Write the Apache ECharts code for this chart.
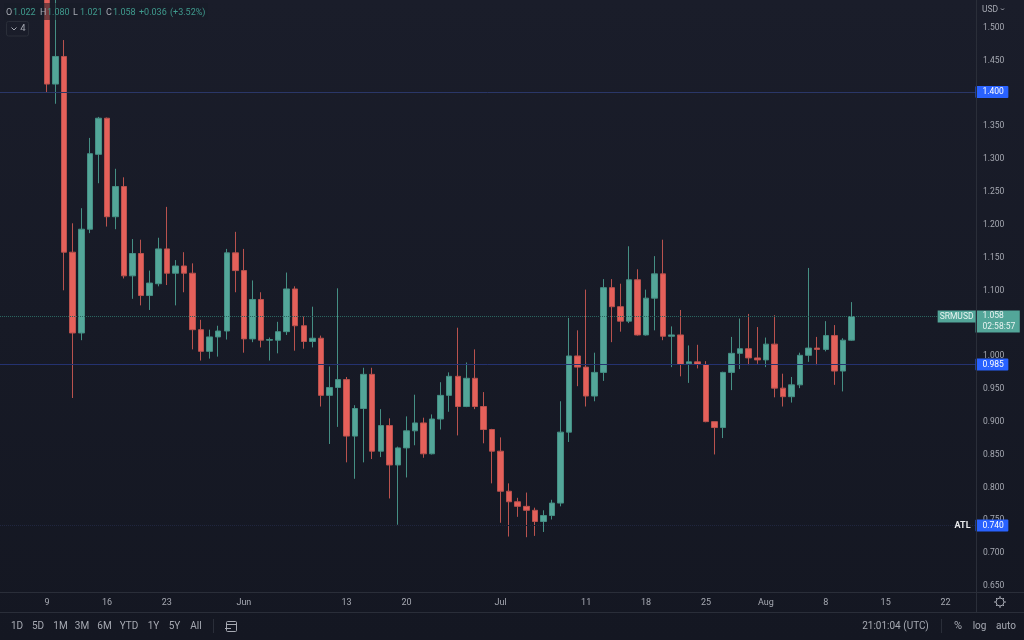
<!DOCTYPE html>
<html>
<head>
<meta charset="utf-8">
<title>SRMUSD</title>
<script src="https://cdn.jsdelivr.net/npm/echarts@6/dist/echarts.min.js"></script>
<style>
  html, body { margin: 0; padding: 0; background: #161923; }
  #chart { width: 1024px; height: 640px; }
</style>
</head>
<body>
<div id="chart"></div>
<script>
// one category per day, 4 May to 25 Aug
const days = []
for (let m = 5, d = 4, i = 0; i < 114; i++) {
  days.push(m + '-' + d)
  d++
  if ((m === 5 || m === 7) && d > 31) { m++; d = 1 }
  if (m === 6 && d > 30) { m++; d = 1 }
}
const leadingEmptyDays = 5

// open, close, low, high from 9 May
const candles = [
  [1.56, 1.412, 1.399, 1.60], [1.412, 1.454, 1.382, 1.60], [1.454, 1.156, 1.098, 1.479], [1.156, 1.033, 0.934, 1.200],
  [1.033, 1.191, 1.022, 1.223], [1.191, 1.306, 1.185, 1.330], [1.305, 1.360, 1.261, 1.362], [1.360, 1.210, 1.195, 1.361],
  [1.210, 1.256, 1.191, 1.283], [1.256, 1.120, 1.116, 1.270], [1.120, 1.154, 1.085, 1.176], [1.154, 1.090, 1.075, 1.175],
  [1.090, 1.109, 1.068, 1.128], [1.108, 1.161, 1.104, 1.178], [1.161, 1.124, 1.106, 1.225], [1.124, 1.135, 1.075, 1.144],
  [1.135, 1.124, 1.095, 1.156], [1.124, 1.038, 1.008, 1.139], [1.038, 1.005, 0.991, 1.053], [1.005, 1.027, 0.994, 1.038],
  [1.027, 1.036, 0.997, 1.044], [1.036, 1.155, 1.023, 1.161], [1.155, 1.128, 1.095, 1.187], [1.128, 1.024, 1.003, 1.161],
  [1.024, 1.084, 1.019, 1.113], [1.084, 1.022, 1.011, 1.095], [1.022, 1.023, 0.991, 1.026], [1.022, 1.035, 1.002, 1.050],
  [1.035, 1.100, 1.030, 1.125], [1.100, 1.044, 1.006, 1.104], [1.044, 1.020, 1.009, 1.058], [1.020, 1.025, 1.011, 1.073],
  [1.025, 0.938, 0.921, 1.029], [0.938, 0.950, 0.864, 0.982], [0.950, 0.962, 0.890, 1.101], [0.962, 0.876, 0.836, 0.966],
  [0.876, 0.918, 0.811, 0.923], [0.918, 0.970, 0.836, 0.980], [0.970, 0.853, 0.841, 0.980], [0.853, 0.892, 0.844, 0.917],
  [0.892, 0.832, 0.781, 0.903], [0.832, 0.858, 0.741, 0.860], [0.858, 0.884, 0.813, 0.906], [0.884, 0.896, 0.862, 0.939],
  [0.896, 0.849, 0.843, 0.904], [0.849, 0.902, 0.848, 0.909], [0.902, 0.938, 0.886, 0.958], [0.938, 0.967, 0.913, 0.973],
  [0.967, 0.921, 0.877, 1.041], [0.921, 0.964, 0.920, 0.988], [0.964, 0.921, 0.917, 1.008], [0.921, 0.886, 0.865, 0.943],
  [0.886, 0.853, 0.804, 0.887], [0.853, 0.792, 0.744, 0.874], [0.792, 0.776, 0.723, 0.804], [0.776, 0.769, 0.753, 0.782],
  [0.769, 0.763, 0.722, 0.790], [0.763, 0.746, 0.724, 0.767], [0.746, 0.755, 0.730, 0.763], [0.755, 0.774, 0.749, 0.779],
  [0.774, 0.882, 0.769, 0.929], [0.882, 0.998, 0.867, 1.056], [0.998, 0.981, 0.952, 1.037], [0.981, 0.937, 0.921, 1.099],
  [0.937, 0.973, 0.929, 1.003], [0.973, 1.102, 0.960, 1.115], [1.102, 1.073, 1.019, 1.115], [1.073, 1.051, 1.035, 1.108],
  [1.051, 1.114, 1.048, 1.165], [1.114, 1.030, 1.029, 1.130], [1.030, 1.086, 1.029, 1.099], [1.086, 1.123, 1.037, 1.150],
  [1.123, 1.028, 1.022, 1.175], [1.028, 1.030, 0.981, 1.043], [1.030, 0.985, 0.967, 1.068], [0.986, 0.989, 0.957, 1.014],
  [0.989, 0.985, 0.979, 1.015], [0.985, 0.898, 0.897, 0.990], [0.898, 0.889, 0.848, 0.898], [0.889, 0.973, 0.873, 0.974],
  [0.973, 1.002, 0.946, 1.027], [1.002, 1.009, 0.978, 1.055], [1.009, 0.995, 0.984, 1.062], [0.995, 0.992, 0.986, 1.042],
  [0.992, 1.016, 0.981, 1.026], [1.016, 0.949, 0.935, 1.060], [0.949, 0.936, 0.921, 0.971], [0.936, 0.954, 0.927, 0.966],
  [0.954, 0.999, 0.949, 1.003], [0.999, 1.010, 0.989, 1.132], [1.010, 1.008, 0.984, 1.027], [1.008, 1.029, 1.005, 1.051],
  [1.029, 0.975, 0.954, 1.045], [0.975, 1.022, 0.944, 1.025], [1.022, 1.058, 1.021, 1.080],
]

const priceTicks = [0.65, 0.70, 0.75, 0.80, 0.85, 0.90, 0.95, 1.00, 1.05, 1.10, 1.15, 1.20, 1.25, 1.30, 1.35, 1.40, 1.45, 1.50]
const dateTicks = { '5-9': '9', '5-16': '16', '5-23': '23', '6-1': 'Jun', '6-13': '13', '6-20': '20', '7-1': 'Jul', '7-11': '11', '7-18': '18', '7-25': '25', '8-1': 'Aug', '8-8': '8', '8-15': '15', '8-22': '22' }
const ranges = ['1D', '5D', '1M', '3M', '6M', 'YTD', '1Y', '5Y', 'All']
const rangeX = [17, 38, 60.5, 82, 104.5, 129, 153.5, 174.5, 196]
const legendParts = ['O', '1.022', 'H', '1.080', 'L', '1.021', 'C', '1.058', '+0.036', '(+3.52%)']
const legendX = [6, 13, 40, 47, 73, 80, 106, 113, 139, 170]

const resistance = 1.400
const support = 0.985
const lastPrice = 1.058
const allTimeLow = 0.740

const upColor = '#53a699'
const downColor = '#e5605a'
const upBorder = '#458f84'
const downBorder = '#b9524e'
const lineColor = '#2a2e39'
const textColor = '#a6a9b2'
const font = 'Roboto'
const hiddenLine = { color: 'rgba(0,0,0,0)', width: 0 }

const blueLabel = {
  position: 'end',
  distance: 0,
  color: '#fff',
  backgroundColor: '#2962ff',
  fontFamily: font,
  fontSize: 8.5,
  padding: [2, 4.5, 1, 7],
  borderRadius: 1,
}

function chromeText(x, y, text, color, extra) {
  return {
    type: 'text',
    x,
    y,
    z: 20,
    style: Object.assign({ text, fill: color || textColor, font: '10px ' + font, textAlign: 'center', textVerticalAlign: 'middle' }, extra),
  }
}

function chromeLine(x1, y1, x2, y2, stroke) {
  return { type: 'line', z: 20, shape: { x1, y1, x2, y2 }, style: { stroke: stroke || lineColor, lineWidth: 1 } }
}

const chart = echarts.init(document.getElementById('chart'))
chart.setOption({
  animation: false,
  backgroundColor: new echarts.graphic.LinearGradient(0, 0, 0, 1, [
    { offset: 0, color: '#1a1d2a' },
    { offset: 1, color: '#141722' },
  ]),
  grid: { left: -1.64, top: -0.6, width: 977.14, height: 592, containLabel: false },
  xAxis: {
    type: 'category',
    data: days,
    boundaryGap: true,
    axisLine: { show: false },
    axisTick: { show: false },
    splitLine: { show: false },
    axisLabel: {
      interval: (index, value) => value in dateTicks,
      formatter: (value) => dateTicks[value] || '',
      color: textColor,
      fontFamily: font,
      fontSize: 9,
      margin: 6.6,
    },
  },
  yAxis: {
    type: 'value',
    position: 'right',
    min: 0.6395,
    max: 1.54,
    scale: true,
    axisLine: { show: false },
    axisTick: { show: false },
    splitLine: { show: false },
    axisLabel: {
      customValues: priceTicks,
      formatter: (value) => value.toFixed(3),
      color: textColor,
      fontFamily: font,
      fontSize: 8.5,
      margin: 7.5,
      verticalAlign: 'top',
      lineHeight: 3,
    },
  },
  series: [
    {
      type: 'candlestick',
      barWidth: 6,
      itemStyle: {
        color: upColor,
        color0: downColor,
        borderColor: upBorder,
        borderColor0: downBorder,
        borderWidth: 1,
      },
      data: new Array(leadingEmptyDays).fill('-').concat(candles),
      markLine: {
        silent: true,
        symbol: ['none', 'none'],
        animation: false,
        precision: 3,
        data: [
          {
            yAxis: resistance,
            lineStyle: { color: '#2a3768', type: 'solid', width: 1 },
            label: Object.assign({}, blueLabel, { formatter: resistance.toFixed(3) }),
          },
          {
            yAxis: support,
            lineStyle: { color: '#243270', type: 'solid', width: 1 },
            label: Object.assign({}, blueLabel, { formatter: support.toFixed(3) }),
          },
          {
            yAxis: allTimeLow,
            lineStyle: { color: '#20263f', type: 'dotted', width: 1 },
            label: Object.assign({}, blueLabel, { formatter: allTimeLow.toFixed(3) }),
          },
          {
            yAxis: allTimeLow,
            lineStyle: hiddenLine,
            label: {
              position: 'insideEnd',
              distance: 0,
              formatter: 'ATL',
              color: '#e8e9ec',
              fontFamily: font,
              fontWeight: 'bold',
              fontSize: 9,
              padding: [0, 5, 0, 0],
              verticalAlign: 'middle',
            },
          },
          {
            yAxis: lastPrice,
            lineStyle: { color: '#2a6660', type: 'dotted', width: 1 },
            label: {
              position: 'end',
              distance: 0,
              formatter: lastPrice.toFixed(3) + '\n02:58:57',
              color: '#e8f3f1',
              backgroundColor: upColor,
              fontFamily: font,
              fontSize: 8.5,
              lineHeight: 11,
              padding: [0, 4.5, 0, 7],
              verticalAlign: 'top',
              offset: [0, -6],
            },
          },
          {
            yAxis: lastPrice,
            lineStyle: hiddenLine,
            label: {
              position: 'insideEnd',
              distance: 0,
              formatter: 'SRMUSD',
              color: '#e8f3f1',
              backgroundColor: upColor,
              fontFamily: font,
              fontSize: 8.5,
              padding: [2, 2, 1, 2],
              verticalAlign: 'middle',
            },
          },
        ],
      },
    },
  ],
  graphic: [
    // frame of the scales
    chromeLine(976.5, 0, 976.5, 612),
    chromeLine(0, 592.5, 1024, 592.5),
    chromeLine(0, 612.5, 1024, 612.5),
    // ohlc legend
    { type: 'rect', z: 18, shape: { x: 4, y: 3, width: 204, height: 17 }, style: { fill: 'rgba(24,27,38,0.55)' } },
    ...legendParts.map((part, i) => chromeText(legendX[i], 12.5, part, i < 8 && i % 2 === 0 ? '#a6a9b2' : '#3f9a8d', { font: '9px ' + font, textAlign: 'left' })),
    { type: 'rect', z: 20, shape: { x: 6.5, y: 21.5, width: 22, height: 14.5, r: 2 }, style: { fill: 'none', stroke: '#2a2e39', lineWidth: 1 } },
    { type: 'polyline', z: 20, shape: { points: [[11.5, 27.5], [14, 30], [16.5, 27.5]] }, style: { fill: 'none', stroke: textColor, lineWidth: 1 } },
    chromeText(23, 29, '4', textColor, { font: '9.5px ' + font }),
    // currency
    chromeText(990, 9.5, 'USD', textColor, { font: '8.5px ' + font }),
    { type: 'polyline', z: 20, shape: { points: [[1001, 8.5], [1002.5, 10], [1004, 8.5]] }, style: { fill: 'none', stroke: textColor, lineWidth: 1 } },
    // bottom toolbar
    ...ranges.map((label, i) => chromeText(rangeX[i], 626, label)),
    chromeLine(213.5, 619, 213.5, 633),
    { type: 'rect', z: 20, shape: { x: 226.5, y: 621.5, width: 10, height: 10, r: 1 }, style: { fill: 'none', stroke: textColor, lineWidth: 1 } },
    chromeLine(226.5, 624.5, 236.5, 624.5, textColor),
    chromeLine(225, 628.5, 231, 628.5, textColor),
    chromeText(895.5, 626, '21:01:04 (UTC)'),
    chromeLine(941.5, 619, 941.5, 633),
    chromeText(958, 626, '%', textColor, { font: '11px ' + font }),
    chromeText(979.5, 626, 'log'),
    chromeText(1006, 626, 'auto'),
    // settings wheel
    { type: 'circle', z: 20, shape: { cx: 1000, cy: 602, r: 4 }, style: { fill: 'none', stroke: textColor, lineWidth: 1 } },
    chromeLine(1000, 596, 1000, 598, textColor),
    chromeLine(1000, 606, 1000, 608, textColor),
    chromeLine(994, 602, 996, 602, textColor),
    chromeLine(1004, 602, 1006, 602, textColor),
    chromeLine(996, 598, 997, 599, textColor),
    chromeLine(1003, 605, 1004, 606, textColor),
    chromeLine(1003, 599, 1004, 598, textColor),
    chromeLine(996, 606, 997, 605, textColor),
  ],
})
</script>
</body>
</html>
